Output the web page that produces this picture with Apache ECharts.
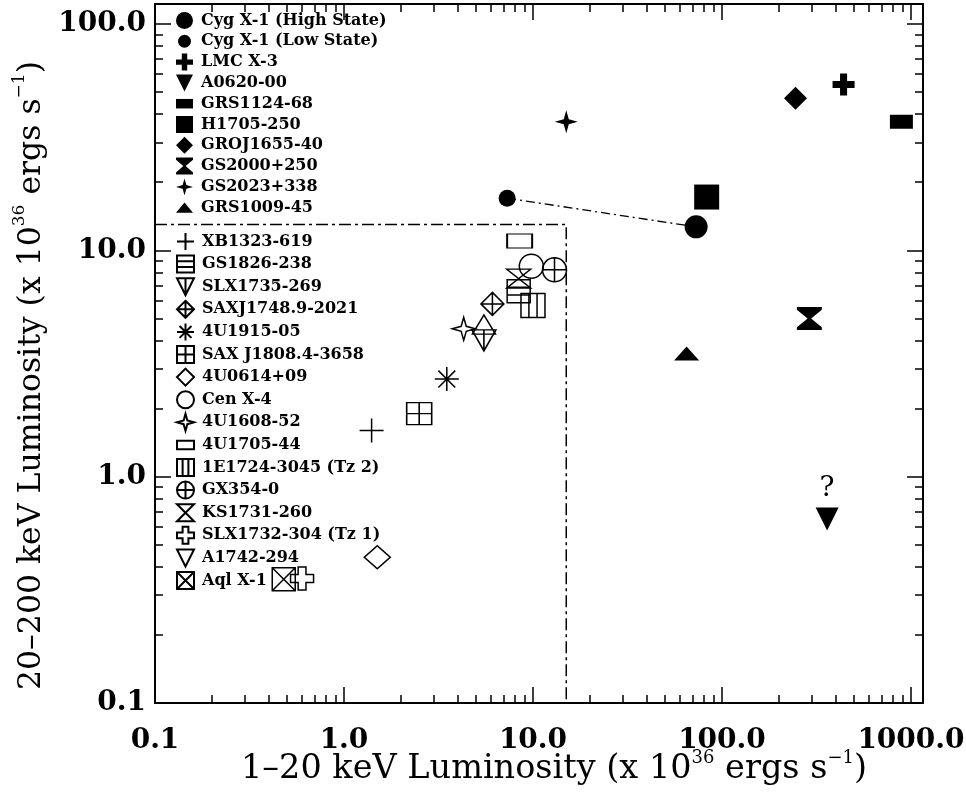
<!DOCTYPE html>
<html>
<head>
<meta charset="utf-8">
<script src="https://cdn.jsdelivr.net/npm/echarts@6/dist/echarts.min.js"></script>
<style>
html, body { margin: 0; padding: 0; background: #fff; }
#chart { width: 966px; height: 792px; }
</style>
</head>
<body>
<div id="chart"></div>
<script>
// Luminosities in units of 1e36 erg/s: soft = 1-20 keV, hard = 20-200 keV.

// Black-hole candidates (filled symbols)
const bhNames = ['Cyg X-1 (High State)', 'Cyg X-1 (Low State)', 'LMC X-3', 'A0620-00', 'GRS1124-68',
  'H1705-250', 'GROJ1655-40', 'GS2000+250', 'GS2023+338', 'GRS1009-45'];
const bhSoft = [73, 7.3, 440, 360, 890, 83, 245, 290, 15, 65];
const bhHard = [12.7, 17, 54, 0.65, 37, 17.2, 47, 5.0, 37, 3.5];

// Neutron-star bursters (open symbols)
const nsNames = ['XB1323-619', 'GS1826-238', 'SLX1735-269', 'SAXJ1748.9-2021', '4U1915-05',
  'SAX J1808.4-3658', '4U0614+09', 'Cen X-4', '4U1608-52', '4U1705-44', '1E1724-3045 (Tz 2)',
  'GX354-0', 'KS1731-260', 'SLX1732-304 (Tz 1)', 'A1742-294', 'Aql X-1'];
const nsSoft = [1.4, 8.4, 5.5, 6.1, 3.5, 2.5, 1.5, 9.8, 4.3, 8.5, 10, 13, 8.4, 0.6, 5.5, 0.48];
const nsHard = [1.6, 6.6, 4.0, 5.8, 2.7, 1.9, 0.44, 8.5, 4.5, 11, 5.7, 8.2, 7.5, 0.355, 4.7, 0.352];

// Burster box boundary (dash-dot)
const boxSoft = 15;
const boxHard = 13;

// Axis ranges and tick labels
const xRange = [0.1, 1158];
const yRange = [0.1, 122.6];
const xMajor = [0.1, 1, 10, 100, 1000];
const yMajor = [0.1, 1, 10, 100];

function minorTicks(range) {
  const out = [];
  for (let d = 0.1; d < range[1]; d *= 10) {
    for (let k = 2; k <= 9; k++) {
      const v = +(k * d).toPrecision(3);
      if (v > range[0] && v < range[1]) out.push(v);
    }
  }
  return out;
}
const xMinor = minorTicks(xRange);
const yMinor = minorTicks(yRange);

// Symbol shapes (100x100 boxes)
const P = {
  plusFill: 'path://M34,0H66V34H100V66H66V100H34V66H0V34H34Z',
  triDown: 'path://M0,0H100L50,100Z',
  triUp: 'path://M50,0L100,100H0Z',
  hourFill: 'path://M0,0H100V12L57,50L100,88V100H0V88L43,50L0,12Z',
  star4: 'path://M50,0L61,39L100,50L61,61L50,100L39,61L0,50L39,39Z',
  plus: 'path://M50,0V100M0,50H100',
  boxH: 'path://M0,0H100V100H0ZM0,33H100M0,67H100',
  triDownBar: 'path://M0,0H100L50,100ZM50,0V100',
  diamondPlus: 'path://M50,0L100,50L50,100L0,50ZM50,0V100M0,50H100',
  aster: 'path://M50,0V100M0,50H100M15,15L85,85M85,15L15,85',
  boxPlus: 'path://M0,0H100V100H0ZM50,0V100M0,50H100',
  diamond: 'path://M50,0L100,50L50,100L0,50Z',
  boxV: 'path://M0,0H100V100H0ZM33,0V100M67,0V100',
  circPlus: 'path://M50,0A50,50,0,1,1,50,100A50,50,0,1,1,50,0ZM50,0V100M0,50H100',
  hourOpen: 'path://M0,0H100L0,100H100Z',
  crossOpen: 'path://M33,0H67V33H100V67H67V100H33V67H0V33H33Z',
  boxX: 'path://M0,0H100V100H0ZM0,0L100,100M100,0L0,100',
  // legend-only icons padded inside a 100x100 frame
  lgFlatRect: 'path://M0,0M0,22H100V78H0ZM100,100',
  lgFlatTri: 'path://M0,0M50,20L100,80H0ZM100,100',
  lgSmallCirc: 'path://M0,0M12,50A38,38,0,1,1,88,50A38,38,0,1,1,12,50ZM100,100',
  lgOpenRect: 'path://M0,0M0,25H100V75H0ZM100,100'
};

const bhStyle = {
  'Cyg X-1 (High State)': { symbol: 'circle', size: 23 },
  'Cyg X-1 (Low State)': { symbol: 'circle', size: 17, icon: P.lgSmallCirc },
  'LMC X-3': { symbol: P.plusFill, size: 22 },
  'A0620-00': { symbol: P.triDown, size: 23 },
  'GRS1124-68': { symbol: 'rect', size: [23, 14], icon: P.lgFlatRect },
  'H1705-250': { symbol: 'rect', size: 25 },
  'GROJ1655-40': { symbol: 'diamond', size: 23 },
  'GS2000+250': { symbol: P.hourFill, size: [25, 23] },
  'GS2023+338': { symbol: P.star4, size: 23 },
  'GRS1009-45': { symbol: 'triangle', size: [25, 14], icon: P.lgFlatTri }
};

const nsStyle = {
  'XB1323-619': { symbol: P.plus, size: 24 },
  'GS1826-238': { symbol: P.boxH, size: 23 },
  'SLX1735-269': { symbol: P.triDownBar, size: [24, 21] },
  'SAXJ1748.9-2021': { symbol: P.diamondPlus, size: 23 },
  '4U1915-05': { symbol: P.aster, size: 24 },
  'SAX J1808.4-3658': { symbol: P.boxPlus, size: [25, 22] },
  '4U0614+09': { symbol: P.diamond, size: [26, 23] },
  'Cen X-4': { symbol: 'circle', size: 24 },
  '4U1608-52': { symbol: P.star4, size: 23 },
  '4U1705-44': { symbol: 'rect', size: [25, 14], icon: P.lgOpenRect },
  '1E1724-3045 (Tz 2)': { symbol: P.boxV, size: [24, 24] },
  'GX354-0': { symbol: P.circPlus, size: 24 },
  'KS1731-260': { symbol: P.hourOpen, size: [24, 19] },
  'SLX1732-304 (Tz 1)': { symbol: P.crossOpen, size: 23 },
  'A1742-294': { symbol: P.triUp, size: [23, 19], icon: P.triDown },
  'Aql X-1': { symbol: P.boxX, size: 23 }
};

const serif = 'DejaVu Serif';
const legendText = { fontFamily: serif, fontWeight: 'bold', fontSize: 16, lineHeight: 17,
  color: '#000', padding: [0, 0, 0, 3] };
const tickText = { fontFamily: serif, fontWeight: 'bold', fontSize: 28, color: '#000' };
function titleRich(size) {
  return {
    t: { fontFamily: serif, fontSize: size, lineHeight: 40, color: '#000' },
    s: { fontFamily: serif, fontSize: Math.round(size * 0.55), lineHeight: 18, verticalAlign: 'top', color: '#000' }
  };
}

const series = [];

// Cyg X-1 low-to-high state connector
series.push({
  type: 'line', silent: true, symbol: 'none', z: 1, animation: false,
  data: [[bhSoft[1], bhHard[1]], [bhSoft[0], bhHard[0]]],
  lineStyle: { color: '#000', width: 1.3, type: [9, 4, 2, 4] }
});

// Burster region outline
series.push({
  type: 'line', silent: true, symbol: 'none', z: 1, animation: false,
  data: [[xRange[0], boxHard], [boxSoft, boxHard], [boxSoft, yRange[0]]],
  lineStyle: { color: '#000', width: 1.5, type: [12, 4, 3, 4] }
});

bhNames.forEach((name, i) => {
  const st = bhStyle[name];
  const s = {
    type: 'scatter', name, silent: true, z: 3, animation: false,
    data: [[bhSoft[i], bhHard[i]]],
    symbol: st.symbol, symbolSize: st.size,
    itemStyle: { color: '#000', opacity: 1 }
  };
  if (name === 'A0620-00') {
    s.label = { show: true, position: 'top', distance: 5, formatter: '?',
      fontFamily: serif, fontSize: 28, color: '#000' };
  }
  series.push(s);
});

nsNames.forEach((name, i) => {
  const st = nsStyle[name];
  series.push({
    type: 'scatter', name, silent: true, z: 2, animation: false,
    data: [[nsSoft[i], nsHard[i]]],
    symbol: st.symbol, symbolSize: st.size,
    itemStyle: { color: 'rgba(0,0,0,0)', borderColor: '#000', borderWidth: 1.5, opacity: 1 }
  });
});

function legendData(names, styles) {
  return names.map(n => styles[n].icon ? { name: n, icon: styles[n].icon } : { name: n });
}

function axisPair(kind, range, major, minor, position, labelled) {
  const common = {
    type: 'log', logBase: 10, min: range[0], max: range[1], position,
    splitLine: { show: false }, minorTick: { show: false }, minorSplitLine: { show: false }
  };
  const main = Object.assign({}, common, {
    axisLine: { show: true, onZero: false, lineStyle: { color: '#000', width: 2 } },
    axisTick: { show: true, inside: true, length: 16, customValues: major,
      lineStyle: { color: '#000', width: 1.5 } },
    axisLabel: labelled
      ? Object.assign({ show: true, customValues: major, margin: kind === 'x' ? 24 : 9,
          formatter: v => Number(v).toFixed(1) }, tickText)
      : { show: false }
  });
  const sub = Object.assign({}, common, {
    axisLine: { show: false },
    axisTick: { show: true, inside: true, length: 8, customValues: minor,
      lineStyle: { color: '#000', width: 1.5 } },
    axisLabel: { show: false }
  });
  return [main, sub];
}

const xAxes = axisPair('x', xRange, xMajor, xMinor, 'bottom', true)
  .concat(axisPair('x', xRange, xMajor, xMinor, 'top', false));
const yAxes = axisPair('y', yRange, yMajor, yMinor, 'left', true)
  .concat(axisPair('y', yRange, yMajor, yMinor, 'right', false));

Object.assign(xAxes[0], {
  name: '{t|1–20 keV Luminosity (x 10}{s|36}{t| ergs s}{s|−1}{t|)}',
  nameLocation: 'middle', nameGap: 46, nameMoveOverlap: false,
  nameTextStyle: { rich: titleRich(33.5), padding: [0, 0, 0, 30] }
});
Object.assign(yAxes[0], {
  name: '{t|20–200 keV Luminosity (x 10}{s|36}{t| ergs s}{s|−1}{t|)}',
  nameLocation: 'middle', nameGap: 102,
  nameTextStyle: { rich: titleRich(31.5), padding: [0, 44, 0, 0] }
});

const option = {
  animation: false,
  backgroundColor: '#fff',
  grid: { left: 155, right: 43, top: 4, bottom: 89, containLabel: false, outerBoundsMode: 'none' },
  xAxis: xAxes,
  yAxis: yAxes,
  legend: [
    {
      data: legendData(bhNames, bhStyle), orient: 'vertical', left: 176, top: 12,
      itemWidth: 17, itemHeight: 17, itemGap: 3.8, selectedMode: false,
      textStyle: legendText, padding: 0
    },
    {
      data: legendData(nsNames, nsStyle), orient: 'vertical', left: 176, top: 232,
      itemWidth: 17, itemHeight: 17, itemGap: 3.6, selectedMode: false,
      textStyle: legendText, padding: 0
    }
  ],
  series
};

const chart = echarts.init(document.getElementById('chart'), null, { renderer: 'canvas' });
chart.setOption(option);
</script>
</body>
</html>
